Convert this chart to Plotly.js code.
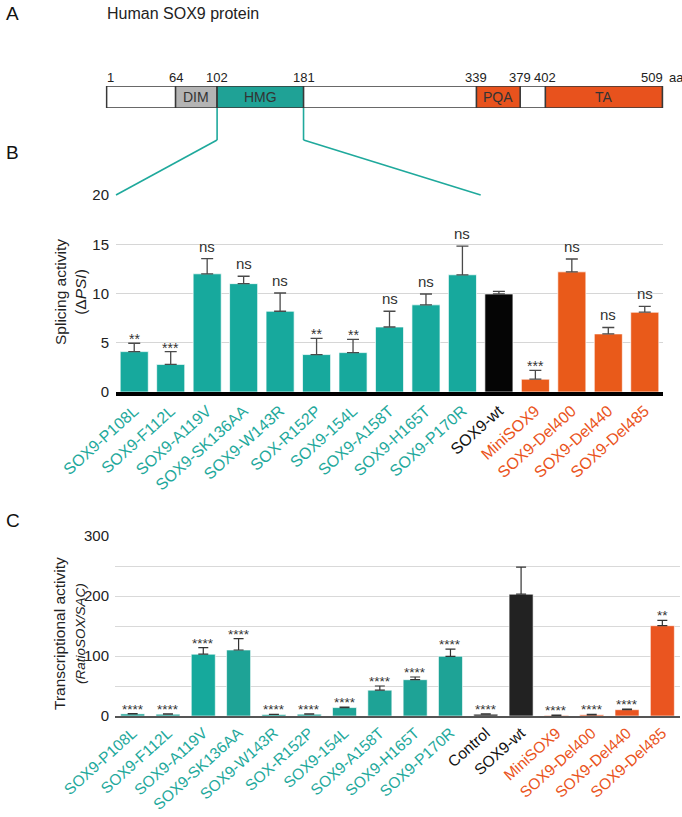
<!DOCTYPE html>
<html><head><meta charset="utf-8">
<script src="https://cdn.plot.ly/plotly-3.0.1.min.js"></script>
<style>html,body{margin:0;padding:0;background:#fff}#chart{width:682px;height:817px}</style>
</head><body><div id="chart"></div>
<script>
// ---------- Panel A data ----------
const proteinStart = 1;
const proteinEnd = 509;
const domainNames = ['DIM', 'HMG', 'PQA', 'TA'];
const domainStart = [64, 102, 339, 402];
const domainEnd = [102, 181, 379, 509];
const boundaryLabels = [1, 64, 102, 181, 339, 379, 402, 509];

// ---------- Panel B data ----------
const catsB = ['SOX9-P108L','SOX9-F112L','SOX9-A119V','SOX9-SK136AA','SOX9-W143R','SOX-R152P','SOX9-154L','SOX9-A158T','SOX9-H165T','SOX9-P170R','SOX9-wt','MiniSOX9','SOX9-Del400','SOX9-Del440','SOX9-Del485'];
const valsB = [4.1, 2.8, 12.0, 11.0, 8.2, 3.8, 4.0, 6.6, 8.85, 11.9, 9.95, 1.3, 12.2, 5.9, 8.1];
const errB  = [0.85, 1.3, 1.55, 0.75, 1.85, 1.65, 1.35, 1.6, 1.1, 2.9, 0.27, 0.9, 1.3, 0.65, 0.6];
const sigB  = ['**','***','ns','ns','ns','**','**','ns','ns','ns','','***','ns','ns','ns'];
const groupB = ['mut','mut','mut','mut','mut','mut','mut','mut','mut','mut','wt','del','del','del','del'];

// ---------- Panel C data ----------
const catsC = ['SOX9-P108L','SOX9-F112L','SOX9-A119V','SOX9-SK136AA','SOX9-W143R','SOX-R152P','SOX9-154L','SOX9-A158T','SOX9-H165T','SOX9-P170R','Control','SOX9-wt','MiniSOX9','SOX9-Del400','SOX9-Del440','SOX9-Del485'];
const valsC = [3.5, 3, 103, 110, 2.5, 3, 14, 43, 60.5, 99.5, 3, 203, 1, 2, 10.5, 150.5];
const errC  = [0.6, 0.4, 11, 19, 0.4, 0.4, 1, 7, 4.5, 12, 0.5, 45, 0.3, 0.6, 1.2, 9];
const sigC  = ['****','****','****','****','****','****','****','****','****','****','****','','****','****','****','**'];
const groupC = ['mut','mut','mut','mut','mut','mut','mut','mut','mut','mut','wt','wt','del','del','del','del'];

// ---------- styles ----------
const W = 682, H = 817;
const FONT = 'Liberation Sans, Arial, Helvetica, sans-serif';
const TEAL = '#17a99d', TEAL_TXT = '#1fa99c', ORANGE = '#e95a1a', ORANGE_TXT = '#ea541c';
const barColB = {mut: TEAL, wt: '#050505', del: ORANGE};
const barColC = {mut: '#1ea396', wt: '#222222', del: '#ea5520'};
const txtCol = {mut: TEAL_TXT, wt: '#111111', del: ORANGE_TXT};
const domainFill = {DIM: '#b4b4b4', HMG: '#1fa296', PQA: '#e8521d', TA: '#e8521d'};

const px = v => v / W;
const py = v => 1 - v / H;

// axis geometry (pixels)
const A_X0 = 105.5, A_X1 = 663.5, A_R0 = 0, A_R1 = 510;
const A_TOP = 86, A_BOT = 108, A_NUM = 77, A_BEND = 140;
const B_X0 = 116, B_X1 = 663, B_TOP = 195, B_BOT = 392;
const C_X0 = 115, C_X1 = 680, C_TOP = 536, C_BOT = 716;
const aaPx = aa => A_X0 + (aa - A_R0) / (A_R1 - A_R0) * (A_X1 - A_X0);
const catBPx = i => B_X0 + (i + 0.5) * (B_X1 - B_X0) / catsB.length;

const traces = [
  {
    type: 'bar', x: catsB, y: valsB, xaxis: 'x2', yaxis: 'y2', width: catsB.map(() => 0.77),
    marker: {color: groupB.map(g => barColB[g]), line: {color: 'rgba(255,255,255,0.7)', width: 1}},
    error_y: {type: 'data', symmetric: false, array: errB, arrayminus: errB.map(() => 0), color: '#4a4a4a', thickness: 1.3, width: 6},
    hoverinfo: 'skip'
  },
  {
    type: 'bar', x: catsC, y: valsC, xaxis: 'x3', yaxis: 'y3', width: catsC.map(() => 0.68),
    marker: {color: groupC.map((g, i) => (i === 2 ? '#16a99c' : barColC[g])), line: {color: 'rgba(255,255,255,0.6)', width: 1}},
    error_y: {type: 'data', symmetric: false, array: errC, arrayminus: errC.map(() => 0), color: '#333333', thickness: 1.2, width: 5},
    hoverinfo: 'skip'
  }
];

const shapes = [];
const annotations = [];
const ann = o => annotations.push(Object.assign({showarrow: false, xanchor: 'center', yanchor: 'middle'}, o));

// Panel A protein box
shapes.push({type: 'rect', xref: 'x', yref: 'y', x0: proteinStart, x1: proteinEnd, y0: 0, y1: 1,
  fillcolor: '#ffffff', line: {color: '#383838', width: 1.6}});
domainNames.forEach((n, i) => {
  shapes.push({type: 'rect', xref: 'x', yref: 'y', x0: domainStart[i], x1: domainEnd[i], y0: 0, y1: 1,
    fillcolor: domainFill[n], line: {color: '#383838', width: 1.6}});
  ann({xref: 'x', yref: 'y', x: (domainStart[i] + domainEnd[i]) / 2, y: 0.5, text: n,
    font: {size: 14, color: '#333', family: FONT}});
});
boundaryLabels.forEach((b, i) => {
  const last = i === boundaryLabels.length - 1;
  const first = i === 0;
  ann({xref: 'x', yref: 'paper', x: b, y: py(A_NUM), text: String(b),
    xanchor: first ? 'left' : (last ? 'right' : 'center'), xshift: first ? -2 : (last ? 3 : 0),
    font: {size: 13, color: '#222', family: FONT}});
  if (last) ann({xref: 'x', yref: 'paper', x: b, y: py(A_NUM), text: 'aa',
    xanchor: 'left', xshift: 5, font: {size: 13, color: '#222', family: FONT}});
});

// connectors (HMG zoom)
const hmgL = aaPx(domainStart[1]), hmgR = aaPx(domainEnd[1]);
const connColor = '#1fa99c';
[[hmgL, B_X0], [hmgR, catBPx(9.5)]].forEach(([a, b]) => {
  shapes.push({type: 'line', xref: 'paper', yref: 'paper', x0: px(a), x1: px(a), y0: py(A_BOT), y1: py(A_BEND), line: {color: connColor, width: 1.6}});
  shapes.push({type: 'line', xref: 'paper', yref: 'paper', x0: px(a), x1: px(b), y0: py(A_BEND), y1: py(B_TOP), line: {color: connColor, width: 1.6}});
});

// significance labels
sigB.forEach((s, i) => {
  if (!s) return;
  const isNs = s === 'ns';
  ann({xref: 'x2', yref: 'y2', x: catsB[i], y: valsB[i] + errB[i], text: s,
    yanchor: 'bottom', yshift: isNs ? 2 : -6, font: {size: isNs ? 15 : 14, color: '#333', family: FONT}});
});
sigC.forEach((s, i) => {
  if (!s) return;
  ann({xref: 'x3', yref: 'y3', x: catsC[i], y: valsC[i] + errC[i], text: s,
    yanchor: 'bottom', yshift: -5, font: {size: 13.5, color: '#333', family: FONT}});
});

// panel letters & titles
ann({xref: 'paper', yref: 'paper', x: px(4), y: py(14), text: 'A', xanchor: 'left', font: {size: 19, color: '#111', family: FONT}});
ann({xref: 'paper', yref: 'paper', x: px(4), y: py(152), text: 'B', xanchor: 'left', font: {size: 19, color: '#111', family: FONT}});
ann({xref: 'paper', yref: 'paper', x: px(4), y: py(520), text: 'C', xanchor: 'left', font: {size: 19, color: '#111', family: FONT}});
ann({xref: 'paper', yref: 'paper', x: px(105), y: py(14), text: 'Human SOX9 protein', xanchor: 'left', font: {size: 16, color: '#222', family: FONT}});

// y axis titles
ann({xref: 'paper', yref: 'paper', x: px(71), y: py(292), textangle: -90,
  text: 'Splicing activity<br>(Δ<i>PSI</i>)', font: {size: 15.5, color: '#222', family: FONT}});
ann({xref: 'paper', yref: 'paper', x: px(69), y: py(634), textangle: -90,
  text: 'Transcriptional activity<br><span style="font-size:13.5px"><i>(RatioSOX/SAC)</i></span>', font: {size: 15.5, color: '#222', family: FONT}});

const tickB = catsB.map((c, i) => `<span style="color:${txtCol[groupB[i]]}">${c}</span>`);
const tickC = catsC.map((c, i) => `<span style="color:${txtCol[groupC[i]]}">${c}</span>`);

const layout = {
  width: W, height: H, margin: {l: 0, r: 0, t: 0, b: 0},
  paper_bgcolor: '#fff', plot_bgcolor: 'rgba(0,0,0,0)', showlegend: false,
  font: {family: FONT, color: '#222'},
  xaxis: {domain: [px(A_X0), px(A_X1)], range: [A_R0, A_R1], visible: false, fixedrange: true},
  yaxis: {domain: [py(A_BOT), py(A_TOP)], range: [0, 1], visible: false, fixedrange: true},
  xaxis2: {domain: [px(B_X0), px(B_X1)], anchor: 'y2', type: 'category', range: [-0.5, catsB.length - 0.5],
    showline: true, linecolor: '#000', linewidth: 3.5, ticks: '', showgrid: false, tickangle: -42,
    tickvals: catsB, ticktext: tickB, tickfont: {size: 16, family: FONT}, automargin: false},
  yaxis2: {domain: [py(B_BOT), py(B_TOP)], anchor: 'x2', range: [0, 20], tickvals: [0, 5, 10, 15, 20],
    showgrid: true, gridcolor: '#d6d6d6', gridwidth: 1, zeroline: false, showline: false, ticks: '',
    ticklabelstandoff: 6, tickfont: {size: 15, color: '#222', family: FONT}, automargin: false},
  xaxis3: {domain: [px(C_X0), px(C_X1)], anchor: 'y3', type: 'category', range: [-0.5, catsC.length - 0.5],
    showline: true, linecolor: '#555', linewidth: 2, ticks: '', showgrid: false, tickangle: -42,
    tickvals: catsC, ticktext: tickC, tickfont: {size: 15.5, family: FONT}, automargin: false},
  yaxis3: {domain: [py(C_BOT), py(C_TOP)], anchor: 'x3', range: [0, 300], tickvals: [0, 100, 200, 300],
    showgrid: true, gridcolor: '#d9d9d9', gridwidth: 1, zeroline: false, showline: false, ticks: '',
    minor: {dtick: 50, showgrid: true, gridcolor: '#d9d9d9', gridwidth: 1},
    ticklabelstandoff: 5, tickfont: {size: 15, color: '#222', family: FONT}, automargin: false},
  shapes: shapes,
  annotations: annotations
};

Plotly.newPlot('chart', traces, layout, {staticPlot: true, displayModeBar: false});
</script>
</body></html>
